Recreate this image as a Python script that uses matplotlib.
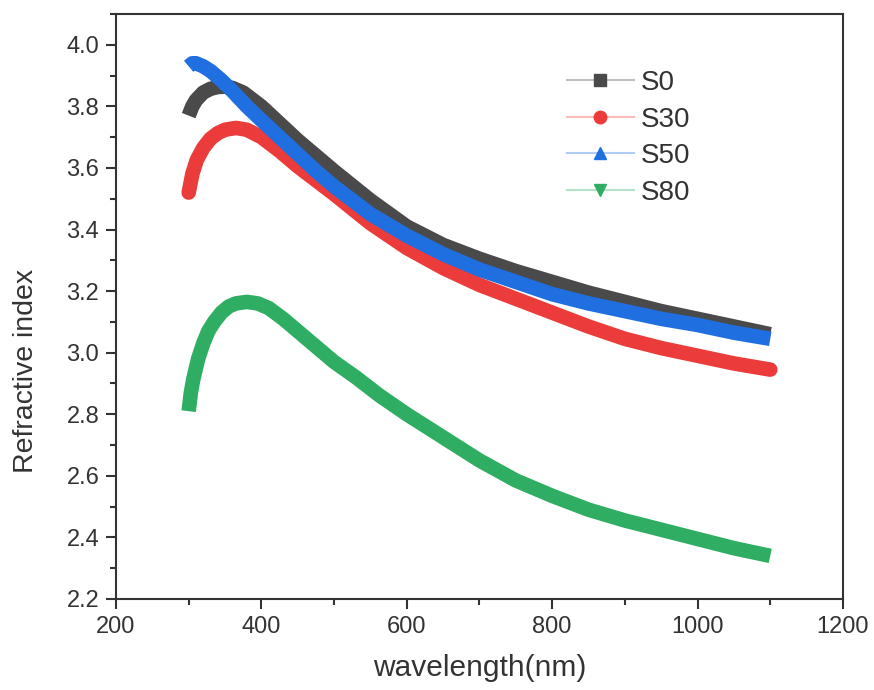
import matplotlib
matplotlib.use("Agg")
import matplotlib.pyplot as plt
import matplotlib.colors as mcolors
from matplotlib.lines import Line2D
from matplotlib.ticker import MultipleLocator

plt.rcParams['font.family'] = ['Liberation Sans', 'DejaVu Sans']

# refractive index vs wavelength (nm) for each sample
wl_s0 = [300, 305, 310, 320, 330, 340, 350, 360, 375, 400, 425, 450, 475, 500, 550, 600,
         650, 700, 750, 800, 850, 900, 950, 1000, 1050, 1100]
n_s0 = [3.77, 3.80, 3.82, 3.845, 3.857, 3.863, 3.864, 3.86, 3.845, 3.80, 3.745, 3.69, 3.64, 3.59, 3.495, 3.41,
        3.35, 3.305, 3.265, 3.23, 3.195, 3.165, 3.135, 3.11, 3.085, 3.06]

wl_s30 = [300, 305, 311, 320, 330, 340, 350, 365, 380, 400, 425, 450, 475, 500, 550, 600,
          650, 700, 750, 800, 850, 900, 950, 1000, 1050, 1100]
n_s30 = [3.52, 3.58, 3.625, 3.665, 3.695, 3.713, 3.724, 3.73, 3.724, 3.70, 3.655, 3.605, 3.56, 3.515, 3.42, 3.34,
         3.275, 3.22, 3.175, 3.13, 3.085, 3.045, 3.015, 2.99, 2.965, 2.945]

wl_s50 = [300, 305, 310, 320, 330, 345, 360, 380, 400, 425, 450, 475, 500, 550, 600,
          650, 700, 750, 800, 850, 900, 950, 1000, 1050, 1100]
n_s50 = [3.93, 3.94, 3.94, 3.93, 3.915, 3.885, 3.85, 3.80, 3.755, 3.70, 3.645, 3.59, 3.54, 3.45, 3.38,
         3.32, 3.27, 3.23, 3.19, 3.16, 3.135, 3.11, 3.09, 3.065, 3.045]

wl_s80 = [300, 303, 306, 313, 320, 327, 335, 345, 355, 365, 380, 395, 410, 430, 450, 475, 500, 530, 563, 600,
          650, 700, 750, 800, 850, 900, 950, 1000, 1050, 1100]
n_s80 = [2.81, 2.87, 2.91, 2.98, 3.03, 3.07, 3.10, 3.13, 3.15, 3.16, 3.165, 3.16, 3.145, 3.11, 3.07, 3.02, 2.97, 2.92, 2.86, 2.80,
         2.725, 2.65, 2.585, 2.535, 2.49, 2.455, 2.425, 2.395, 2.365, 2.34]

labels = ['S0', 'S30', 'S50', 'S80']
colors = ['#4a4a4a', '#ec3b3b', '#1f6fe0', '#2fae63']
markers = ['s', 'o', '^', 'v']
text_col = '#333333'

fig = plt.figure(figsize=(8.74, 6.90), dpi=100)
ax = fig.add_axes([0.1327, 0.1319, 0.8318, 0.8478])

series = [(wl_s0, n_s0), (wl_s30, n_s30), (wl_s50, n_s50), (wl_s80, n_s80)]
caps = ['butt', 'round', 'butt', 'butt']
for (x, y), c, cap in zip(series, colors, caps):
    ax.plot(x, y, color=c, lw=10.5, solid_capstyle=cap, solid_joinstyle='round')

ax.set_xlim(200, 1200)
ax.set_ylim(2.2, 4.1)
ax.xaxis.set_major_locator(MultipleLocator(200))
ax.xaxis.set_minor_locator(MultipleLocator(100))
ax.yaxis.set_major_locator(MultipleLocator(0.2))
ax.yaxis.set_minor_locator(MultipleLocator(0.1))
ax.yaxis.set_major_formatter(plt.FormatStrFormatter('%.1f'))

ax.tick_params(which='major', direction='out', length=7, width=1.5, labelsize=17,
               color=text_col, labelcolor=text_col, pad=5)
ax.tick_params(which='minor', direction='out', length=4, width=1.5, color=text_col)
for s in ax.spines.values():
    s.set_linewidth(1.5)
    s.set_color(text_col)

ax.set_xlabel('wavelength(nm)', fontsize=21.5, color=text_col, labelpad=12)
ax.set_ylabel('Refractive index', fontsize=20.5, color=text_col)
ax.yaxis.set_label_coords(-0.106, 0.39)

# legend: marker on a faint line, as in the plotting software's style
handles = []
for c, m in zip(colors, markers):
    r, g, b = mcolors.to_rgb(c)
    handles.append(Line2D([], [], color=(r, g, b, 0.35), lw=1.5, marker=m, markersize=9,
                          markerfacecolor=c, markeredgecolor=c))
leg = ax.legend(handles, labels, loc='upper left', bbox_to_anchor=(0.586, 0.947),
                frameon=False, fontsize=20, handlelength=2.4, labelspacing=0.38,
                handletextpad=0.25)
for t in leg.get_texts():
    t.set_color(text_col)

fig.savefig('out.png', dpi=100)
